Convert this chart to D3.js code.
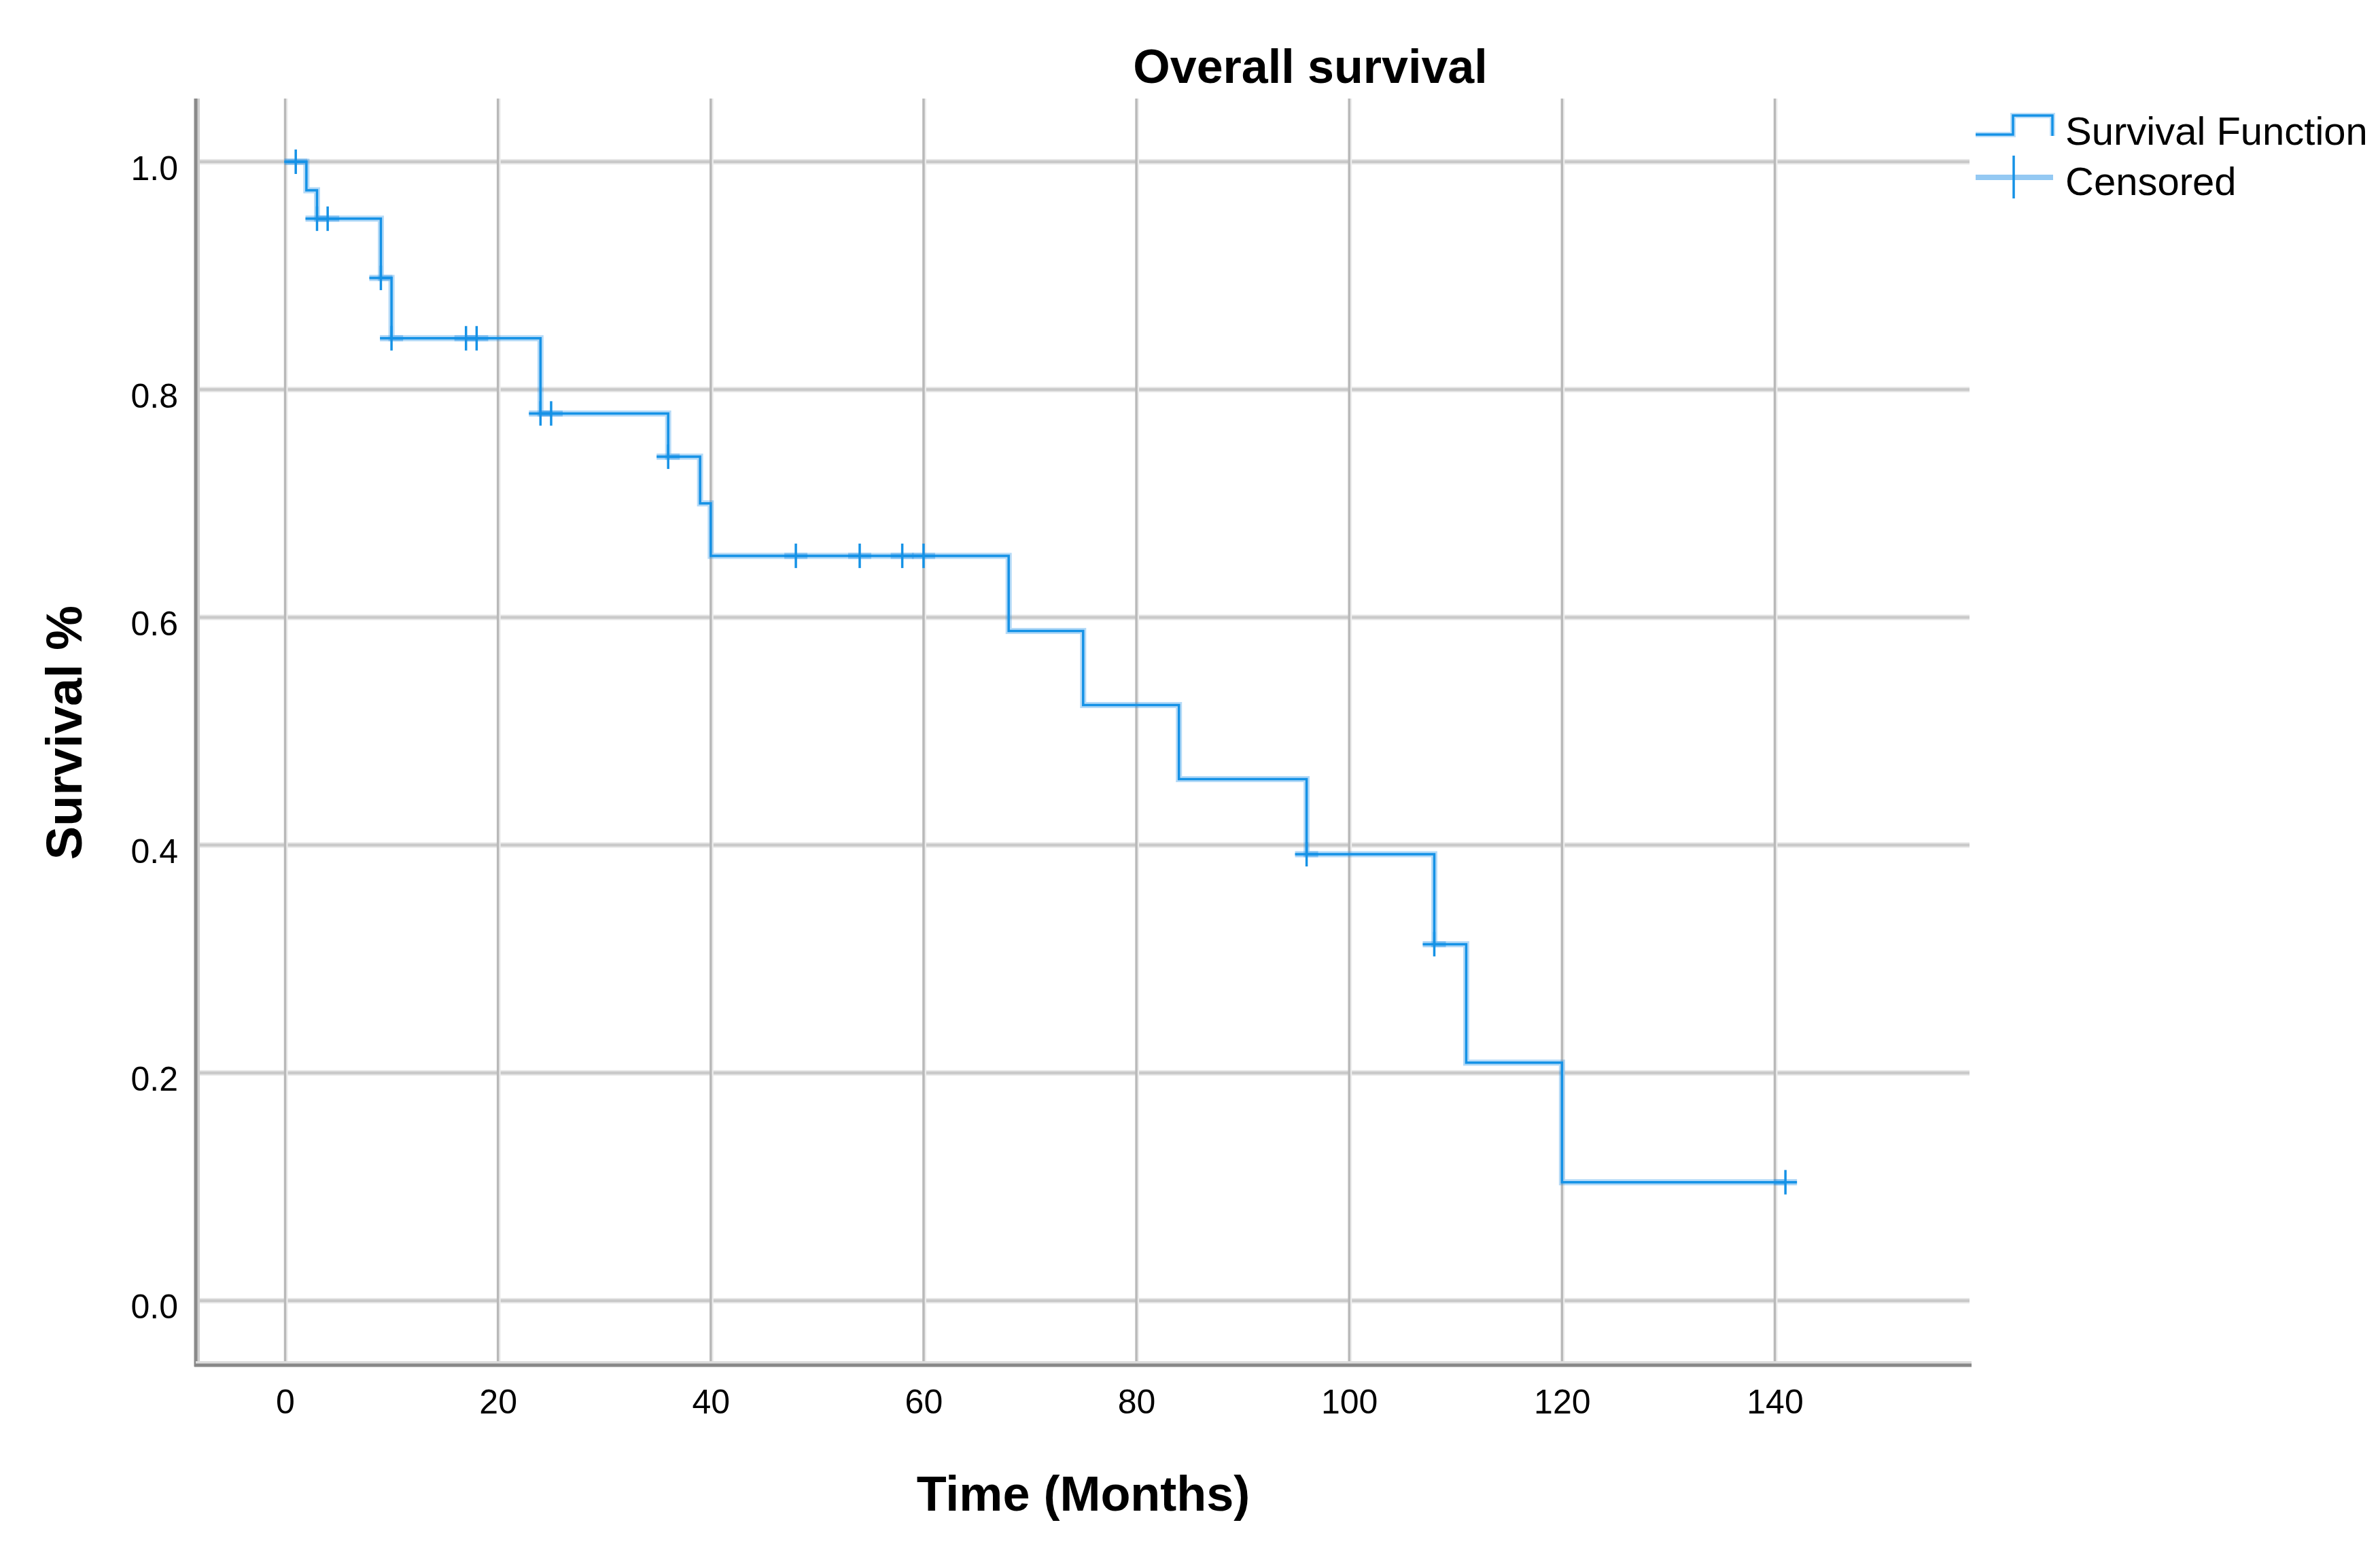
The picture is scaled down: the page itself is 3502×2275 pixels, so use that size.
<!DOCTYPE html>
<html>
<head>
<meta charset="utf-8">
<script src="https://cdn.jsdelivr.net/npm/d3@7"></script>
<style>
  html, body { margin: 0; padding: 0; background: #ffffff; }
  svg { display: block; }
  text { font-family: "Liberation Sans", Arial, sans-serif; fill: #000; }
</style>
</head>
<body>
<svg id="chart" width="3502" height="2275"></svg>
<script>
// ---- data ----
const stepTimes = [0, 2, 3, 9, 10, 24, 36, 39, 40, 68, 75, 84, 96, 108, 111, 120];
const survival  = [1.0, 0.975, 0.950, 0.898, 0.845, 0.779, 0.741, 0.700, 0.654, 0.588, 0.523, 0.458, 0.392, 0.313, 0.209, 0.104];
const lastTime = 141;
const censoredTimes = [1, 3, 4, 9, 10, 17, 18, 24, 25, 36, 48, 54, 58, 60, 96, 108, 141];
const xTicks = [0, 20, 40, 60, 80, 100, 120, 140];
const yTicks = [0.0, 0.2, 0.4, 0.6, 0.8, 1.0];
const titleText = "Overall survival";
const xLabel = "Time (Months)";
const yLabel = "Survival %";
const legendLabels = ["Survival Function", "Censored"];

// ---- layout ----
const W = 3502, H = 2275;
const pLeft = 288, pRight = 2898, pTop = 145, pBottom = 2009;
const blue = "#1592e6";
const halo = "#2a94e8";

const svg = d3.select("#chart");
svg.append("rect").attr("width", W).attr("height", H).attr("fill", "#fff");

const x = d3.scaleLinear().domain([-8.4, 158.3]).range([pLeft, pRight]);
const y = d3.scaleLinear().domain([-0.0567, 1.0555]).range([pBottom, pTop]);

// gridlines
const grid = svg.append("g");
grid.selectAll(".hg").data(yTicks).join("line")
  .attr("x1", pLeft).attr("x2", pRight)
  .attr("y1", d => y(d)).attr("y2", d => y(d))
  .attr("stroke", "#e6e6e6").attr("stroke-width", 8);
grid.selectAll(".hg2").data(yTicks).join("line")
  .attr("x1", pLeft).attr("x2", pRight)
  .attr("y1", d => y(d)).attr("y2", d => y(d))
  .attr("stroke", "#c9c9c9").attr("stroke-width", 4);
grid.selectAll(".vg").data(xTicks).join("line")
  .attr("x1", d => x(d) + 2).attr("x2", d => x(d) + 2)
  .attr("y1", pTop).attr("y2", pBottom)
  .attr("stroke", "#ececec").attr("stroke-width", 4);
grid.selectAll(".vg2").data(xTicks).join("line")
  .attr("x1", d => x(d)).attr("x2", d => x(d))
  .attr("y1", pTop).attr("y2", pBottom)
  .attr("stroke", "#b9b9b9").attr("stroke-width", 3.5);

// axes lines
svg.append("line").attr("x1", pLeft + 4).attr("x2", pLeft + 4).attr("y1", pTop).attr("y2", pBottom)
  .attr("stroke", "#cfcfcf").attr("stroke-width", 4);
svg.append("line").attr("x1", pLeft).attr("x2", pLeft).attr("y1", pTop).attr("y2", pBottom + 2)
  .attr("stroke", "#8a8a8a").attr("stroke-width", 5);
svg.append("line").attr("x1", pLeft).attr("x2", pRight + 3).attr("y1", pBottom - 4).attr("y2", pBottom - 4)
  .attr("stroke", "#dcdcdc").attr("stroke-width", 4);
svg.append("line").attr("x1", pLeft - 2).attr("x2", pRight + 3).attr("y1", pBottom).attr("y2", pBottom)
  .attr("stroke", "#888888").attr("stroke-width", 5);

// axis tick labels via d3 axes (no tick marks)
const xAxis = d3.axisBottom(x).tickValues(xTicks).tickSize(0).tickFormat(d3.format("d"));
const gx = svg.append("g").attr("transform", `translate(0,${pBottom})`).call(xAxis);
gx.select(".domain").remove();
gx.selectAll("text").attr("font-size", 50).attr("dy", null).attr("y", 71)
  .attr("font-family", "Liberation Sans, Arial, sans-serif").attr("fill", "#000");

const yAxis = d3.axisLeft(y).tickValues(yTicks).tickSize(0).tickFormat(d3.format(".1f"));
const gy = svg.append("g").attr("transform", `translate(262,0)`).call(yAxis);
gy.select(".domain").remove();
gy.selectAll("text").attr("font-size", 50).attr("x", 0).attr("dy", null).attr("y", 26)
  .attr("text-anchor", "end")
  .attr("font-family", "Liberation Sans, Arial, sans-serif").attr("fill", "#000");

// survival step line
const pts = stepTimes.map((t, i) => [t, survival[i]]);
pts.push([lastTime, survival[survival.length - 1]]);
const line = d3.line().x(d => x(d[0])).y(d => y(d[1])).curve(d3.curveStepAfter);
const plot = svg.append("g");
plot.append("path").attr("d", line(pts)).attr("fill", "none")
  .attr("stroke", halo).attr("stroke-opacity", 0.35).attr("stroke-width", 9);
plot.append("path").attr("d", line(pts)).attr("fill", "none")
  .attr("stroke", blue).attr("stroke-width", 3.5);

// censored marks
function sAt(t) {
  let s = survival[0];
  for (let i = 0; i < stepTimes.length; i++) if (stepTimes[i] <= t) s = survival[i];
  return s;
}
const cs = 17;
const cg = plot.selectAll(".cens").data(censoredTimes).join("g")
  .attr("transform", d => `translate(${x(d)},${y(sAt(d))})`);
cg.append("line").attr("x1", -cs).attr("x2", cs).attr("y1", 0).attr("y2", 0)
  .attr("stroke", halo).attr("stroke-opacity", 0.4).attr("stroke-width", 9);
cg.append("line").attr("x1", -cs).attr("x2", cs).attr("y1", 0).attr("y2", 0)
  .attr("stroke", blue).attr("stroke-width", 3.5);
cg.append("line").attr("x1", 0).attr("x2", 0).attr("y1", -cs - 1).attr("y2", cs + 1)
  .attr("stroke", blue).attr("stroke-width", 3.5);

// titles
svg.append("text").attr("x", 1928).attr("y", 122).attr("text-anchor", "middle")
  .attr("font-size", 70).attr("font-weight", "bold").text(titleText);
svg.append("text").attr("x", 1594).attr("y", 2223).attr("text-anchor", "middle")
  .attr("font-size", 72).attr("font-weight", "bold").text(xLabel);
svg.append("text").attr("transform", "translate(120,1078) rotate(-90)").attr("text-anchor", "middle")
  .attr("font-size", 74).attr("font-weight", "bold").text(yLabel);

// legend
const lg = svg.append("g");
const stepIcon = [[2907, 198], [2962, 198], [2962, 170], [3020, 170], [3020, 200]];
lg.append("path").attr("d", d3.line()(stepIcon)).attr("fill", "none")
  .attr("stroke", halo).attr("stroke-opacity", 0.3).attr("stroke-width", 8);
lg.append("path").attr("d", d3.line()(stepIcon)).attr("fill", "none")
  .attr("stroke", blue).attr("stroke-width", 3.5);
lg.append("line").attr("x1", 2907).attr("x2", 3021).attr("y1", 261).attr("y2", 261)
  .attr("stroke", halo).attr("stroke-opacity", 0.5).attr("stroke-width", 8);
lg.append("line").attr("x1", 2963).attr("x2", 2963).attr("y1", 229).attr("y2", 292)
  .attr("stroke", blue).attr("stroke-width", 3.5);
lg.append("text").attr("x", 3039).attr("y", 213).attr("font-size", 58).text(legendLabels[0]);
lg.append("text").attr("x", 3039).attr("y", 287).attr("font-size", 58).text(legendLabels[1]);
</script>
</body>
</html>
